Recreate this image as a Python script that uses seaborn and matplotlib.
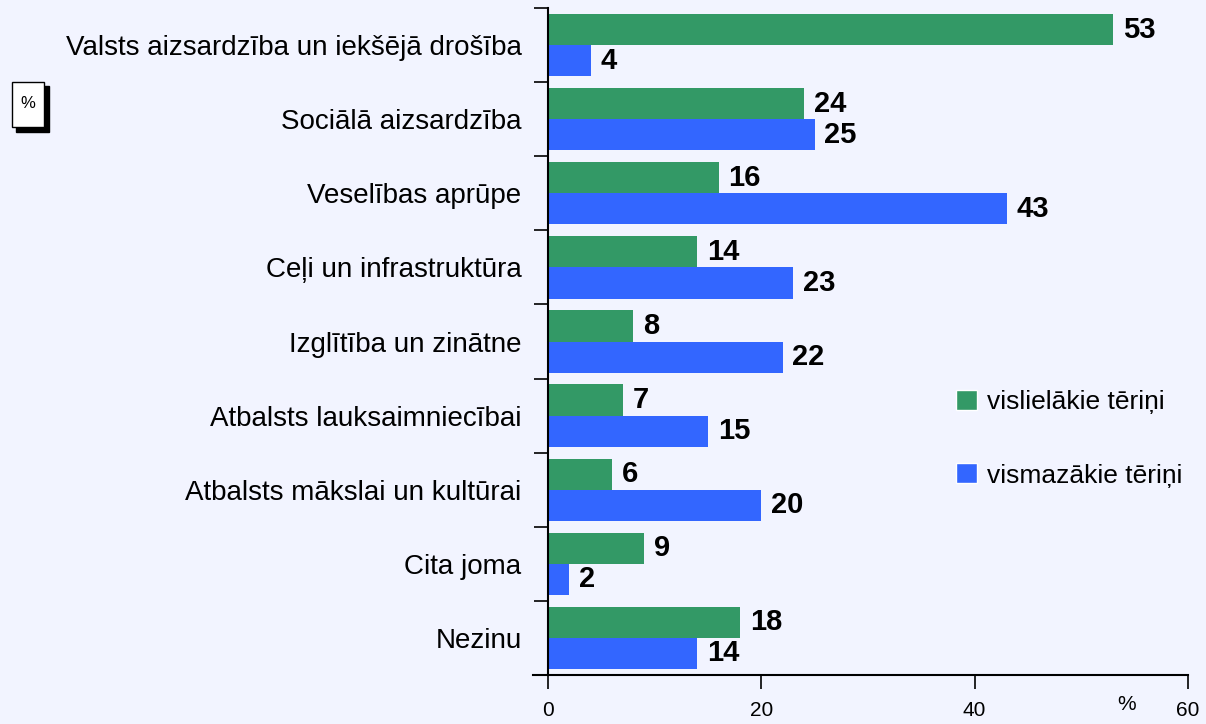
import pandas as pd
import matplotlib.pyplot as plt
import seaborn as sns
from matplotlib.patches import Rectangle, Patch

# Dati
kategorijas = [
    "Valsts aizsardzība un iekšējā drošība",
    "Sociālā aizsardzība",
    "Veselības aprūpe",
    "Ceļi un infrastruktūra",
    "Izglītība un zinātne",
    "Atbalsts lauksaimniecībai",
    "Atbalsts mākslai un kultūrai",
    "Cita joma",
    "Nezinu",
]
lielakie = [53, 24, 16, 14, 8, 7, 6, 9, 18]
mazakie = [4, 25, 43, 23, 22, 15, 20, 2, 14]
serijas = ["vislielākie tēriņi", "vismazākie tēriņi"]
krasas = ["#339966", "#3366FF"]
x_ticks = [0, 20, 40, 60]

tabula = pd.DataFrame({
    "joma": kategorijas * 2,
    "vertiba": lielakie + mazakie,
    "serija": [serijas[0]] * len(kategorijas) + [serijas[1]] * len(kategorijas),
})

sns.set_style("white")
plt.rcParams["font.family"] = ["Liberation Sans", "DejaVu Sans"]
plt.rcParams["text.color"] = "black"
plt.rcParams["xtick.color"] = "black"
plt.rcParams["ytick.color"] = "black"
fons = "#F2F4FF"

fig = plt.figure(figsize=(12.06, 7.24), dpi=100, facecolor=fons)
ax = fig.add_axes([0.4544, 0.0677, 0.5306, 0.9212], facecolor=fons)

sns.barplot(data=tabula, y="joma", x="vertiba", hue="serija", order=kategorijas,
            hue_order=serijas, palette=krasas, width=0.84, saturation=1,
            orient="h", ax=ax, legend=False, linewidth=0)

# Vērtību etiķetes
for konteiners in ax.containers:
    ax.bar_label(konteiners, padding=7, fontsize=21, fontweight="bold")

ax.set_xlim(0, 60)
ax.set_ylim(len(kategorijas) - 0.5, -0.5)
ax.set_xticks(x_ticks)
ax.set_xticklabels([str(t) for t in x_ticks], fontsize=15)
ax.tick_params(axis="x", bottom=True, length=10, width=1.2, pad=9, direction="out")
ax.set_yticks(range(len(kategorijas)))
ax.set_yticklabels(kategorijas, fontsize=20)
ax.tick_params(axis="y", which="major", left=True, length=0, pad=19)
ax.set_yticks([i - 0.5 for i in range(len(kategorijas) + 1)], minor=True)
ax.tick_params(axis="y", which="minor", left=True, length=10, width=1.2, direction="out")
ax.set_xlabel("")
ax.set_ylabel("")

for s in ["top", "right"]:
    ax.spines[s].set_visible(False)
for s in ["left", "bottom"]:
    ax.spines[s].set_linewidth(1.5)
    ax.spines[s].set_color("black")
ax.spines["bottom"].set_bounds(-1.4, 60)

# % pie ass
ax.text(0.904, -0.045, "%", transform=ax.transAxes, fontsize=15, ha="center", va="center")

# Leģenda
roki = [Patch(facecolor=krasas[i], label=serijas[i]) for i in range(2)]
ax.legend(handles=roki, loc="center left", bbox_to_anchor=(0.6, 0.354), frameon=False,
          fontsize=19, labelspacing=1.85, handlelength=0.8, handleheight=0.8,
          handletextpad=0.4)

# % kastīte
fig.patches.append(Rectangle((16 / 1206, 1 - 132 / 724), 33 / 1206, 46 / 724,
                             transform=fig.transFigure, facecolor="black", edgecolor="black"))
fig.patches.append(Rectangle((12 / 1206, 1 - 127 / 724), 32 / 1206, 45 / 724,
                             transform=fig.transFigure, facecolor="white", edgecolor="black", lw=1))
fig.text(28 / 1206, 1 - 103 / 724, "%", fontsize=12, ha="center", va="center")

plt.savefig("out.png", dpi=100, facecolor=fons)
